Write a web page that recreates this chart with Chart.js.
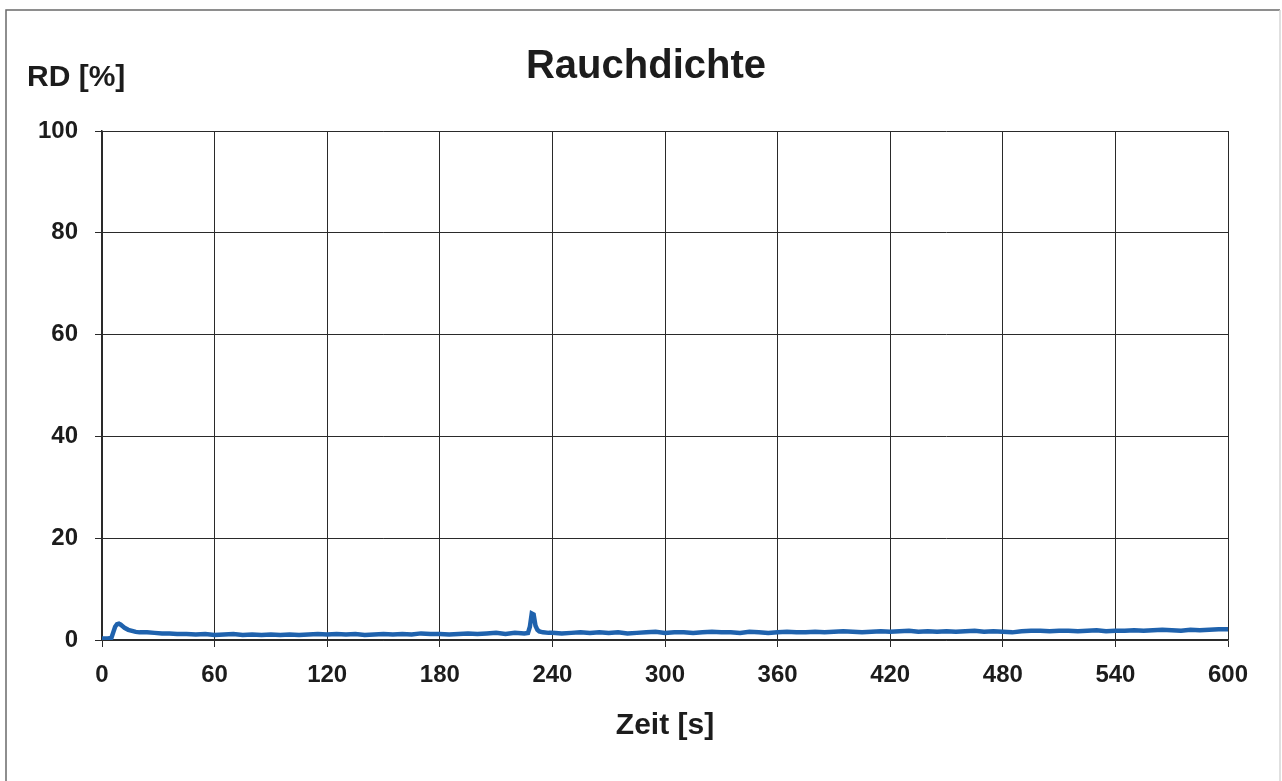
<!DOCTYPE html>
<html>
<head>
<meta charset="utf-8">
<title>Rauchdichte</title>
<script src="https://cdn.jsdelivr.net/npm/chart.js@4.4.1/dist/chart.umd.min.js"></script>
<style>
  html,body{margin:0;padding:0;background:#fff;}
  canvas{display:block;}
</style>
</head>
<body>
<canvas id="chart" width="1282" height="781"></canvas>
<script>

/* DATA */
const timeS = [
  0,3,5,6,7,8,9,10,11,12,14,16,18,20,24,28,32,36,40,45,50,55,
  60,65,70,75,80,85,90,95,100,105,110,115,120,125,130,135,140,145,150,155,
  160,165,170,175,180,185,190,195,200,205,210,215,220,225,227,228,229,230,231,232,233,235,238,
  240,245,250,255,260,265,270,275,280,285,290,295,300,305,310,315,320,325,330,335,
  340,345,350,355,360,365,370,375,380,385,390,395,400,405,410,415,420,425,430,435,
  440,445,450,455,460,465,470,475,480,485,490,495,500,505,510,515,520,525,530,535,
  540,545,550,555,560,565,570,575,580,585,590,595,600
];
const rdPct = [
  0.3,0.3,0.4,1.5,2.6,3.1,3.2,3.0,2.7,2.4,2.0,1.8,1.6,1.5,1.5,1.4,1.3,1.3,1.2,1.2,1.1,1.2,
  1.0,1.1,1.2,1.0,1.1,1.0,1.1,1.0,1.1,1.0,1.1,1.2,1.1,1.2,1.1,1.2,1.0,1.1,1.2,1.1,
  1.2,1.1,1.3,1.2,1.2,1.1,1.2,1.3,1.2,1.3,1.4,1.2,1.4,1.3,1.4,2.6,5.2,5.0,2.8,2.0,1.7,1.5,1.4,
  1.4,1.3,1.4,1.5,1.4,1.5,1.4,1.5,1.3,1.4,1.5,1.6,1.4,1.5,1.5,1.4,1.5,1.6,1.5,1.5,
  1.4,1.6,1.5,1.4,1.5,1.6,1.5,1.5,1.6,1.5,1.6,1.7,1.6,1.5,1.6,1.7,1.6,1.7,1.8,1.6,
  1.7,1.6,1.7,1.6,1.7,1.8,1.6,1.7,1.6,1.5,1.7,1.8,1.8,1.7,1.8,1.8,1.7,1.8,1.9,1.7,
  1.8,1.8,1.9,1.8,1.9,2.0,1.9,1.8,2.0,1.9,2.0,2.1,2.1
];

const xTicks = [0,60,120,180,240,300,360,420,480,540,600];
const yTicks = [0,20,40,60,80,100];

const FONT = "'Liberation Sans', Arial, sans-serif";
const INK = "#1c1c1c";

/* EXTRA TEXT + FRAME */
const framePlugin = {
  id: "frame",
  afterDraw(chart){
    const ctx = chart.ctx;
    ctx.save();
    // scanned page border
    ctx.strokeStyle = "#6a6a6a";
    ctx.lineWidth = 1.5;
    ctx.beginPath();
    ctx.moveTo(6, 781);
    ctx.lineTo(6, 10);
    ctx.lineTo(1280, 10);
    ctx.stroke();
    ctx.strokeStyle = "#d6d6d6";
    ctx.beginPath();
    ctx.moveTo(1280, 10);
    ctx.lineTo(1280, 781);
    ctx.stroke();

    // y axis unit label
    ctx.fillStyle = INK;
    ctx.font = "bold 30px " + FONT;
    ctx.textAlign = "left";
    ctx.textBaseline = "middle";
    ctx.fillText("RD [%]", 27, 78);
    ctx.restore();
  }
};

/* CHART */
new Chart(document.getElementById("chart"), {
  type: "line",
  data: {
    datasets: [{
      data: timeS.map((t, i) => ({ x: t, y: rdPct[i] })),
      borderColor: "#1f62ad",
      borderWidth: 4.5,
      pointRadius: 0,
      tension: 0,
      fill: false
    }]
  },
  options: {
    responsive: false,
    animation: false,
    layout: { padding: { left: 10, right: 0, top: 0, bottom: 0 } },
    plugins: {
      legend: { display: false },
      tooltip: { enabled: false },
      title: {
        display: true,
        text: "Rauchdichte",
        color: INK,
        font: { family: FONT, size: 40, weight: "bold" },
        padding: { top: 43, bottom: 40 }
      }
    },
    scales: {
      x: {
        type: "linear",
        min: 0,
        max: 600,
        afterFit: s => { s.height = 141; },
        afterBuildTicks: s => { s.ticks = xTicks.map(v => ({ value: v })); },
        grid: { color: "#2a2a2a", lineWidth: 1, tickLength: 7, tickColor: "#2a2a2a" },
        border: { color: "#2a2a2a", width: 1.5 },
        ticks: {
          color: INK,
          padding: 14,
          maxRotation: 0,
          font: { family: FONT, size: 24, weight: "bold" }
        },
        title: {
          display: true,
          text: "Zeit [s]",
          color: INK,
          font: { family: FONT, size: 30, weight: "bold" },
          padding: { top: 0, bottom: 37 }
        }
      },
      y: {
        min: 0,
        max: 100,
        afterFit: s => { s.width = 92; },
        afterBuildTicks: s => { s.ticks = yTicks.map(v => ({ value: v })); },
        grid: { color: "#2a2a2a", lineWidth: 1, tickLength: 7, tickColor: "#2a2a2a" },
        border: { color: "#2a2a2a", width: 1.5 },
        ticks: {
          color: INK,
          padding: 17,
          font: { family: FONT, size: 24, weight: "bold" }
        }
      },
      // empty right margin
      yRight: {
        position: "right",
        min: 0,
        max: 100,
        afterFit: s => { s.width = 54; },
        grid: { display: false },
        border: { display: false },
        ticks: { display: false }
      }
    }
  },
  plugins: [framePlugin]
});
</script>
</body>
</html>
